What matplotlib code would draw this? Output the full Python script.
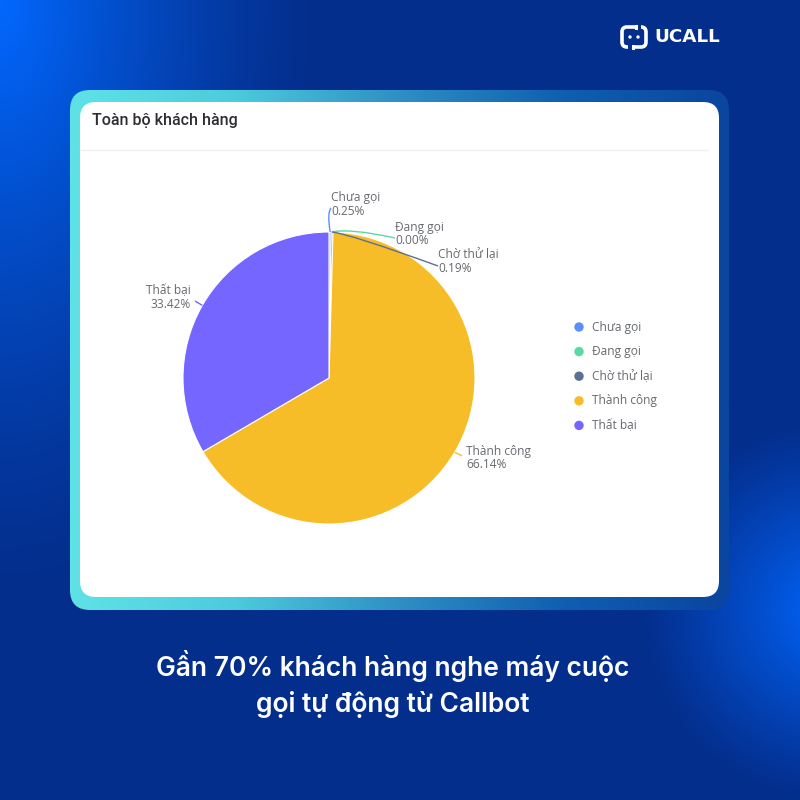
"""
Recreate the UCALL callbot result card: pie chart of call statuses.
"""

import numpy as np
import matplotlib
matplotlib.use("Agg")
import matplotlib.pyplot as plt
from matplotlib.colors import LinearSegmentedColormap
from matplotlib.patches import FancyBboxPatch, Circle, PathPatch, Rectangle
from matplotlib.path import Path

categories = ["Chưa gọi", "Đang gọi", "Chờ thử lại", "Thành công", "Thất bại"]
values = [0.25, 0.00, 0.19, 66.14, 33.42]
value_labels = ["0.25%", "0.00%", "0.19%", "66.14%", "33.42%"]
colors = ["#5B8FF9", "#5AD8A6", "#5D7092", "#F6BD28", "#7566FF"]

title = "Toàn bộ khách hàng"
caption = ["Gần 70% khách hàng nghe máy cuộc", "gọi tự động từ Callbot"]
brand = "UCALL"

# pixel helper: the axes run 0..800 with y going up
H = 800
LABEL_COLOR = "#66696E"
LABEL_FONT = "Open Sans"
BG_NAVY = "#04308F"


def py(y):
    return H - y


def rounded(x0, y0, x1, y1, r, **kw):
    return FancyBboxPatch((x0, py(y1)), x1 - x0, y1 - y0,
                          boxstyle=f"round,pad=0,rounding_size={r}", **kw)


def background(ax):
    # dark navy base with glows in the top left and the lower right corner
    yy, xx = np.mgrid[0:400, 0:400] * 2.0
    base = np.array([4, 46, 140], dtype=float)
    glow1 = np.array([2, 104, 255], dtype=float)
    glow2 = np.array([2, 100, 250], dtype=float)
    d1 = np.clip(1 - np.hypot(xx / 320, yy / 600), 0, 1) ** 1.3
    d2 = np.clip(1 - np.hypot((xx - 830) / 190, (yy - 610) / 190), 0, 1) ** 1.1
    img = base + (glow1 - base)[None, None, :] * d1[..., None] \
        + (glow2 - base)[None, None, :] * d2[..., None]
    img = np.clip(img, 0, 255).astype(np.uint8)
    ax.imshow(img, extent=(0, 800, 0, 800), origin="upper", zorder=0, aspect="auto")


def card(ax):
    # gradient frame
    frame = rounded(70, 90, 729, 610, 20, fc="none", ec="none", zorder=1)
    ax.add_patch(frame)
    cmap = LinearSegmentedColormap.from_list(
        "frame", ["#5FE2E6", "#4CCBDD", "#2E8FC4", "#0F5FB0", "#0A45A0"])
    grad = np.linspace(0, 1, 256).reshape(1, -1)
    im = ax.imshow(grad, extent=(70, 729, py(610), py(90)), cmap=cmap,
                   zorder=1, aspect="auto")
    im.set_clip_path(frame)
    ax.add_patch(rounded(80, 102, 719, 597, 16, fc="white", ec="none", zorder=2))
    ax.plot([80, 708], [py(149.5), py(149.5)], color="#F0F1F2", lw=1, zorder=3)
    ax.text(92, py(120), title, fontsize=11.5, fontweight="medium", family="Roboto",
            color="#2E2E32", va="center", ha="left", zorder=4)


def pie(ax):
    cx, cy, r = 329, 378, 146
    wedges, _ = ax.pie(values, colors=colors, startangle=90, counterclock=False,
                       center=(cx, py(cy)), radius=r, frame=True,
                       wedgeprops=dict(edgecolor="white", linewidth=0.8, zorder=5))
    for w in wedges:
        w.set_zorder(5)
    ax.set_xlim(0, 800)
    ax.set_ylim(0, 800)
    ax.set_aspect("auto")

    # label anchors in pixels: x, first line y, alignment
    anchors = [(331, 198, "left"), (395, 227, "left"), (438, 255, "left"),
               (466, 451, "left"), (191, 291, "right")]
    # leader control points: elbow and end of each line
    leaders = [((327, 212), (331, 208)), ((350, 228), (395, 238)),
               ((350, 234), (438, 266)), ((459, 454), (462, 456)),
               ((198, 303), (195, 301))]
    total = sum(values)
    cum = 0
    for i, v in enumerate(values):
        ang = np.deg2rad(90 - (cum + v / 2) / total * 360)
        cum += v
        start = (cx + r * np.cos(ang), py(cy) + r * np.sin(ang))
        ctrl, end = leaders[i]
        path = Path([start, (ctrl[0], py(ctrl[1])), (end[0], py(end[1]))],
                    [Path.MOVETO, Path.CURVE3, Path.CURVE3])
        ax.add_patch(PathPatch(path, fc="none", ec=colors[i], lw=1.0, zorder=6))
        x, y, ha = anchors[i]
        ax.text(x, py(y), categories[i], fontsize=8.6, family=LABEL_FONT, color=LABEL_COLOR,
                ha=ha, va="center", zorder=7)
        ax.text(x, py(y + 13.5), value_labels[i], fontsize=8.6, family=LABEL_FONT,
                color=LABEL_COLOR, ha=ha, va="center", zorder=7)


def legend(ax):
    for i, name in enumerate(categories):
        y = py(327 + i * 24.6)
        ax.add_patch(Circle((579, y), 4.7, fc=colors[i], ec="none", zorder=5))
        ax.text(591.5, y, name, fontsize=8.6, family=LABEL_FONT, color=LABEL_COLOR,
                va="center", ha="left", zorder=5)


def logo(ax):
    ax.add_patch(rounded(622, 27, 646, 47, 5, fc="none", ec="white", lw=2.6, zorder=3))
    # speech-bubble icon: offset gaps in the outline with a small tail at each
    ax.add_patch(Rectangle((636.5, py(29)), 4, 4, fc=BG_NAVY, ec="none", zorder=4))
    ax.add_patch(Rectangle((627.5, py(49)), 4, 4, fc=BG_NAVY, ec="none", zorder=4))
    ax.plot([635.5, 635.5], [py(26), py(28)], color="white", lw=2.2, zorder=5)
    ax.plot([632.5, 632.5], [py(46), py(48)], color="white", lw=2.2, zorder=5)
    ax.add_patch(Circle((630, py(37)), 1.7, fc="white", ec="none", zorder=5))
    ax.add_patch(Circle((638, py(37)), 1.7, fc="white", ec="none", zorder=5))
    ax.text(654, py(36.5), brand, fontsize=13.2, fontweight="bold", family="DejaVu Sans",
            color="white", va="center", ha="left", zorder=5)


def main():
    fig = plt.figure(figsize=(8, 8), dpi=100)
    ax = fig.add_axes([0, 0, 1, 1])
    background(ax)
    card(ax)
    pie(ax)
    legend(ax)
    logo(ax)
    for line, y in zip(caption, (666.5, 704.5)):
        ax.text(393, py(y), line, fontsize=19, fontweight="semibold", family="Inter",
                color="white", ha="center", va="center", zorder=5)
    ax.set_xlim(0, 800)
    ax.set_ylim(0, 800)
    ax.axis("off")
    fig.savefig("out.png", dpi=100)


if __name__ == "__main__":
    main()
